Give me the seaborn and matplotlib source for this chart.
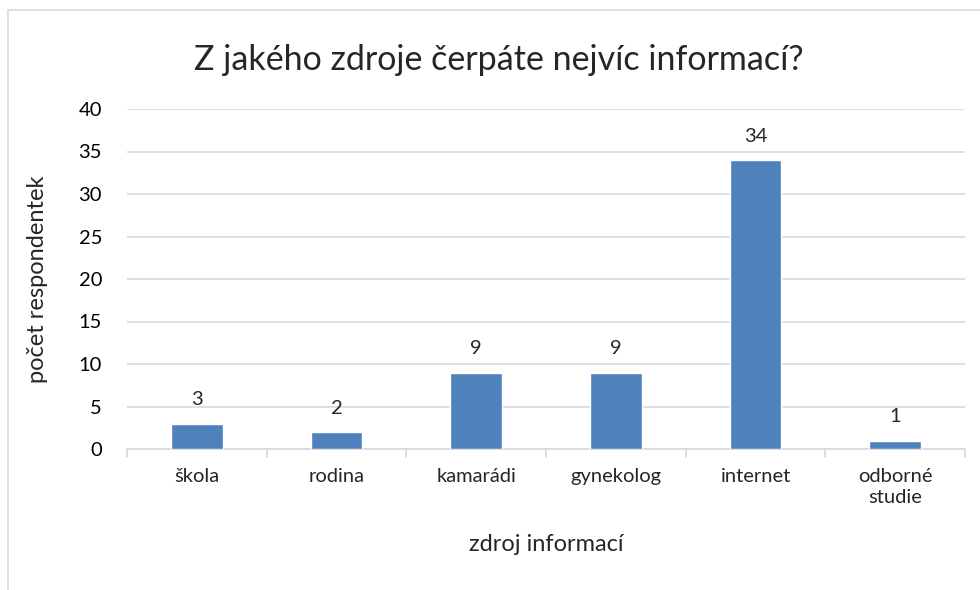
import matplotlib
matplotlib.use("Agg")
import matplotlib.pyplot as plt
import seaborn as sns
import pandas as pd
from matplotlib.patches import Rectangle

categories = ["škola", "rodina", "kamarádi", "gynekolog", "internet", "odborné\nstudie"]
values = [3, 2, 9, 9, 34, 1]
yticks = [0, 5, 10, 15, 20, 25, 30, 35, 40]

title = "Z jakého zdroje čerpáte nejvíc informací?"
xlabel = "zdroj informací"
ylabel = "počet respondentek"

sns.set_style("white")
plt.rcParams['font.family'] = ['Lato', 'DejaVu Sans']

df = pd.DataFrame({"cat": categories, "val": values})

W, H = 980, 590
fig = plt.figure(figsize=(W / 100, H / 100), dpi=100)
# chart frame (cropped Excel chart border)
fig.patches.append(Rectangle((8 / W, -0.05), 1.1, 1 - 10 / H + 0.05, transform=fig.transFigure,
                             fill=False, edgecolor="#d9d9d9", linewidth=1.2, zorder=0))

left, right = 127 / W, 965 / W
bottom, top = 1 - 449 / H, 1 - 109 / H
ax = fig.add_axes([left, bottom, right - left, top - bottom])

sns.barplot(data=df, x="cat", y="val", color="#4F81BD", width=0.37, ax=ax,
            saturation=1, zorder=3)

ax.set_ylim(0, 40)
ax.set_xlim(-0.5, len(categories) - 0.5)
ax.set_yticks(yticks)
ax.yaxis.grid(True, color="#d9d9d9", linewidth=1.2, zorder=0)
ax.set_axisbelow(True)
for s in ["top", "right", "left"]:
    ax.spines[s].set_visible(False)
ax.spines["bottom"].set_color("#d9d9d9")
ax.spines["bottom"].set_linewidth(1.2)

ax.tick_params(axis="y", length=0, labelsize=14.5, pad=18, labelcolor="#000000")
ax.set_xticks(range(len(categories)))
ax.set_xticklabels(categories, fontsize=14.5, linespacing=1.25)
ax.tick_params(axis="x", length=0, pad=14)
# boundary tick marks
for b in [i - 0.5 for i in range(len(categories) + 1)]:
    ax.plot([b, b], [0, -0.9], color="#d9d9d9", linewidth=1.2, clip_on=False, zorder=2)

for i, v in enumerate(values):
    ax.annotate(str(v), (i, v), xytext=(0, 11), textcoords="offset points",
                ha="center", va="bottom", fontsize=14.5)

ax.set_xlabel(xlabel, fontsize=17, labelpad=20)
ax.set_ylabel(ylabel, fontsize=17, labelpad=22)
fig.text(0.5 + 9 / W, 1 - 60 / H, title, ha="center", va="center", fontsize=24.5)

fig.savefig("out.png", dpi=100)
